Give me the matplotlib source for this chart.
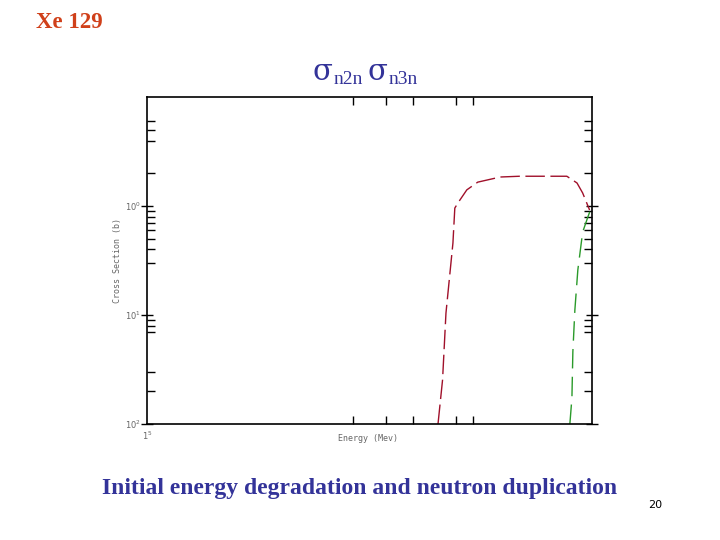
import matplotlib
matplotlib.use("Agg")
import matplotlib.pyplot as plt
from matplotlib.ticker import FixedLocator, NullFormatter

# ── Data (energy in MeV, cross section in b) ─────────────────────────────────
n2n_energy = [7.10, 7.32, 7.49, 7.85, 7.95, 8.12, 8.62, 9.28, 10.8, 12.3, 16.9, 18.1, 18.8, 19.7]
n2n_sigma  = [0.0100, 0.0253, 0.104, 0.458, 0.959, 1.07, 1.41, 1.66, 1.85, 1.88, 1.88, 1.63, 1.32, 0.92]

n3n_energy = [17.25, 17.49, 17.6, 17.84, 18.2, 18.8, 19.47, 19.9]
n3n_sigma  = [0.0100, 0.0173, 0.0458, 0.111, 0.259, 0.577, 0.793, 0.959]

x_minor = [4, 5, 6, 8, 9]
y_major = [0.01, 0.1, 1]
y_major_labels = ["10$^2$", "10$^1$", "10$^0$"]
y_minor = [0.02, 0.03, 0.07, 0.08, 0.09, 0.3, 0.4, 0.5, 0.6, 0.7, 0.8, 0.9, 2, 4, 5, 6]

SERIF = "Liberation Serif"
BLUE_TXT = "#333399"
AX_CLR = "#666666"

fig = plt.figure(figsize=(7.2, 5.4), dpi=100)
fig.patch.set_facecolor("white")
ax = fig.add_axes([0.204, 0.215, 0.618, 0.605])

ax.plot(n2n_energy, n2n_sigma, color="#a0102a", linewidth=1.0, dashes=(14, 4))
ax.plot(n3n_energy, n3n_sigma, color="#2a9a2a", linewidth=1.0, dashes=(14, 6))

ax.set_xscale("log")
ax.set_yscale("log")
ax.set_xlim(1, 20)
ax.set_ylim(0.01, 10)

ax.xaxis.set_major_locator(FixedLocator([]))
ax.xaxis.set_minor_locator(FixedLocator(x_minor))
ax.xaxis.set_minor_formatter(NullFormatter())
ax.yaxis.set_major_locator(FixedLocator(y_major))
ax.set_yticklabels(y_major_labels)
ax.yaxis.set_minor_locator(FixedLocator(y_minor))
ax.yaxis.set_minor_formatter(NullFormatter())

ax.tick_params(which="both", direction="in", top=True, right=True, color="black", width=1.0)
ax.tick_params(which="major", axis="y", direction="inout", length=8, labelsize=6, labelcolor=AX_CLR, pad=0.5)
ax.tick_params(which="minor", length=6)
for s in ax.spines.values():
    s.set_linewidth(1.2)

ax.set_ylabel("Cross Section (b)", fontsize=6, color=AX_CLR, family="DejaVu Sans Mono", labelpad=2)
fig.text(0.511, 0.183, "Energy (Mev)", fontsize=6, color=AX_CLR, family="DejaVu Sans Mono", ha="center")
fig.text(0.204, 0.186, "1$^5$", fontsize=6, color=AX_CLR, ha="center")

# ── Slide text ────────────────────────────────────────────────────────────────
fig.text(0.05, 0.958, "Xe 129", fontsize=16.5, color="#d0401a", fontweight="bold", family=SERIF, va="center")
fig.text(0.434, 0.866, "σ", fontsize=21, color=BLUE_TXT, family="DejaVu Serif", va="center", ha="left")
fig.text(0.463, 0.852, "n2n", fontsize=14, color=BLUE_TXT, family=SERIF, va="center")
fig.text(0.511, 0.866, "σ", fontsize=21, color=BLUE_TXT, family="DejaVu Serif", va="center", ha="left")
fig.text(0.540, 0.852, "n3n", fontsize=14, color=BLUE_TXT, family=SERIF, va="center")
fig.text(0.500, 0.096, "Initial energy degradation and neutron duplication", fontsize=17,
         color=BLUE_TXT, fontweight="bold", family=SERIF, ha="center", va="center")
fig.text(0.9, 0.065, "20", fontsize=8, color="black", family="DejaVu Sans", ha="left", va="center")

fig.savefig("out.png", dpi=100)
